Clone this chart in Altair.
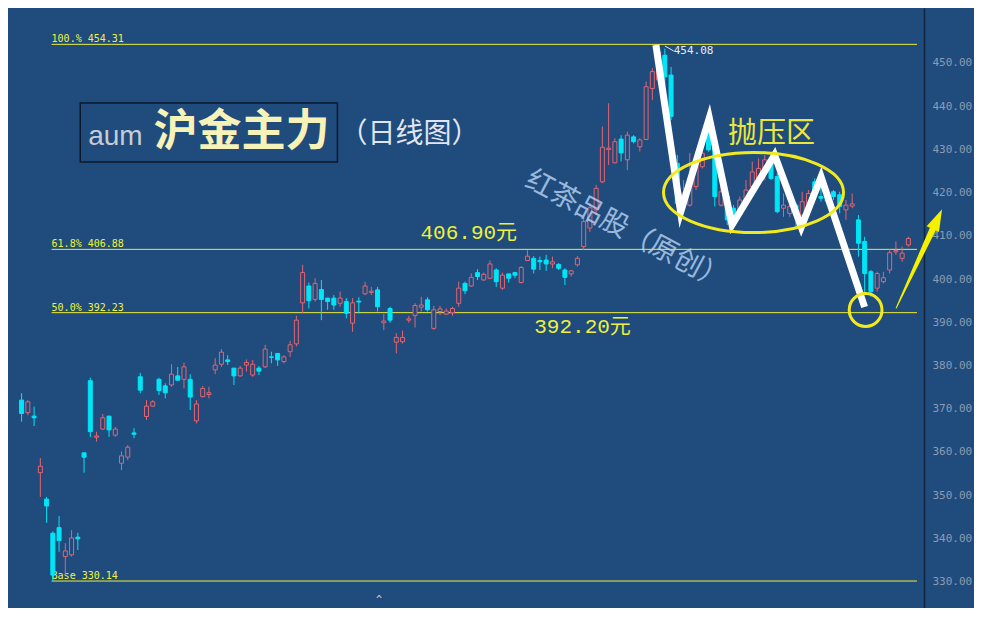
import altair as alt
import pandas as pd

BG = "#1f4b7d"
RED = "#e4646f"
CYAN = "#00e6f6"
YEL = "#eeee38"

# daily candles (price units)
opens = [372.0, 369.1, 368.3, 355.2, 349.1, 341.2, 342.5, 335.8, 336.2, 340.3,
         359.8, 376.5, 363.4, 365.3, 368.3, 363.9, 357.4, 358.8, 364.4, 377.4,
         368.2, 370.6, 376.8, 375.3, 375.5, 377.6, 376.8, 376.8, 367.2, 372.8,
         373.3, 379.0, 380.3, 381.3, 379.4, 377.6, 380.1, 377.8, 379.4, 379.7,
         382.0, 382.8, 380.9, 383.2, 385.0, 394.5, 398.4, 395.3, 397.6, 395.6,
         395.6, 394.4, 394.8, 389.8, 394.9, 396.6, 396.9, 397.5, 389.9, 393.2,
         385.4, 385.5, 390.5, 391.6, 393.5, 395.2, 388.6, 392.5, 391.9, 392.2,
         394.4, 399.0, 398.4, 401.5, 399.8, 400.2, 402.1, 397.9, 401.2, 401.5,
         399.2, 404.3, 404.8, 404.3, 404.4, 403.5, 403.4, 402.1, 401.2, 403.3,
         407.5, 411.8, 416.0, 422.5, 430.0, 426.9, 432.4, 427.6, 432.9, 430.6,
         432.3, 444.1, 446.1, 451.8, 447.2, 426.8, 416.7, 417.1, 421.4, 426.0,
         434.5, 432.2, 417.1, 419.1, 416.4, 414.8, 417.1, 421.4, 422.9, 425.6,
         426.8, 423.7, 416.4, 415.2, 417.1, 414.8, 417.5, 422.5, 419.1, 420.0,
         420.2, 419.5, 416.0, 416.9, 413.7, 408.7, 401.7, 397.9, 399.4, 402.1,
         406.3, 404.8, 407.9]
highs = [373.6, 372.0, 370.5, 358.6, 349.6, 341.6, 345.2, 338.9, 341.9, 341.3,
         359.8, 377.2, 364.7, 368.8, 368.3, 365.8, 360.1, 361.6, 365.5, 378.3,
         372.0, 372.0, 377.2, 375.9, 380.3, 379.7, 380.7, 378.0, 372.0, 375.3,
         375.1, 381.7, 383.8, 382.4, 379.4, 379.9, 381.4, 381.3, 379.9, 384.8,
         383.2, 382.8, 382.4, 385.7, 391.5, 403.3, 399.2, 400.2, 399.8, 395.6,
         396.3, 397.1, 395.6, 395.6, 395.8, 399.4, 398.2, 398.2, 391.9, 393.6,
         387.5, 388.1, 391.5, 394.4, 395.9, 395.8, 393.8, 393.8, 393.2, 393.6,
         399.4, 399.4, 401.3, 402.3, 401.5, 404.3, 402.5, 401.5, 401.3, 401.7,
         403.0, 406.7, 405.3, 405.2, 405.6, 405.2, 403.7, 402.5, 402.1, 405.3,
         414.4, 417.6, 421.8, 435.3, 440.7, 432.6, 433.3, 434.1, 433.3, 432.6,
         445.7, 448.8, 454.08, 453.3, 449.1, 428.7, 422.9, 429.2, 429.5, 432.2,
         435.7, 432.9, 422.9, 419.8, 417.1, 419.1, 422.9, 427.2, 427.9, 428.7,
         427.9, 424.5, 419.8, 419.5, 417.5, 420.2, 420.6, 423.3, 421.4, 421.5,
         420.6, 420.2, 418.3, 419.8, 414.8, 409.8, 402.1, 401.7, 401.7, 406.9,
         408.7, 407.5, 409.8]
lows = [367.0, 368.5, 366.0, 349.6, 343.6, 330.14, 336.9, 331.5, 335.8, 337.3,
        355.2, 363.5, 362.4, 365.1, 363.5, 363.5, 355.8, 358.1, 363.2, 373.6,
        367.4, 370.5, 373.2, 372.4, 375.1, 376.6, 374.7, 369.7, 366.6, 372.6,
        372.4, 378.0, 379.7, 380.1, 375.5, 377.4, 378.6, 377.4, 377.8, 379.4,
        380.5, 379.9, 380.5, 382.0, 384.4, 392.1, 393.2, 394.8, 390.5, 392.9,
        392.9, 393.6, 390.9, 387.8, 392.1, 396.3, 396.3, 392.5, 388.2, 389.9,
        382.8, 385.1, 389.9, 388.8, 392.5, 392.5, 388.2, 391.7, 391.7, 391.5,
        393.6, 396.5, 398.2, 399.8, 399.6, 400.0, 398.2, 397.5, 399.2, 400.2,
        399.0, 404.3, 401.3, 402.1, 401.9, 402.5, 402.1, 398.6, 400.6, 402.9,
        406.7, 410.9, 414.8, 422.2, 426.4, 426.8, 427.2, 425.2, 431.4, 429.5,
        432.2, 441.4, 445.5, 444.9, 436.8, 416.7, 416.0, 416.8, 420.6, 425.6,
        429.5, 416.8, 416.8, 412.5, 412.3, 414.4, 416.8, 421.0, 422.2, 422.9,
        422.9, 415.2, 414.4, 414.4, 412.1, 413.7, 416.0, 419.8, 417.9, 417.0,
        418.3, 415.2, 413.7, 416.4, 405.2, 396.7, 395.9, 397.1, 399.0, 401.3,
        405.6, 404.0, 407.5]
closes = [368.9, 371.6, 367.9, 356.7, 347.5, 331.5, 339.5, 337.1, 340.1, 339.9,
          358.8, 364.7, 363.7, 367.9, 365.1, 365.3, 359.1, 361.1, 364.1, 374.3,
          370.6, 371.6, 374.2, 373.7, 378.0, 376.6, 379.7, 372.7, 371.1, 374.7,
          373.7, 380.1, 383.1, 380.9, 377.6, 379.4, 380.7, 380.3, 378.7, 383.8,
          381.9, 381.3, 382.0, 384.8, 390.5, 401.5, 395.0, 399.0, 395.3, 394.8,
          394.0, 395.6, 392.1, 394.5, 394.7, 398.4, 397.2, 393.6, 390.3, 390.5,
          386.5, 386.5, 390.8, 393.9, 394.0, 392.9, 392.9, 393.1, 392.6, 393.2,
          397.9, 397.3, 400.4, 400.6, 401.1, 403.5, 399.4, 400.9, 400.2, 400.9,
          402.7, 405.3, 402.3, 404.0, 403.5, 404.0, 402.5, 400.4, 401.9, 404.8,
          413.3, 416.5, 421.0, 430.5, 430.3, 431.8, 429.2, 433.3, 431.8, 432.2,
          444.5, 448.0, 452.5, 446.8, 437.6, 417.5, 419.9, 422.9, 426.0, 429.1,
          429.9, 419.1, 420.2, 413.7, 412.9, 418.3, 420.6, 424.8, 425.6, 427.6,
          423.3, 415.6, 417.1, 416.8, 414.8, 417.9, 419.8, 420.6, 418.7, 418.0,
          419.1, 416.8, 417.1, 417.4, 408.3, 401.3, 397.1, 401.3, 400.3, 406.1,
          406.6, 406.0, 409.4]

axis_ticks = [330, 340, 350, 360, 370, 380, 390, 400, 410, 420, 430, 440, 450]

fib_levels = [454.31, 406.88, 392.23, 330.14]
fib_labels = ["100.% 454.31", "61.8% 406.88", "50.0% 392.23", "Base  330.14"]
fib_start, fib_end = 5.80, 144.38

zig_i = [102.57, 106.53, 111.12, 114.76, 121.57, 125.85, 129.02, 135.99]
zig_v = [454.16, 415.52, 437.27, 412.51, 428.71, 412.05, 423.62, 393.54]

n = len(opens)
df = pd.DataFrame({"i": list(range(1, n + 1)), "o": opens, "h": highs,
                   "l": lows, "c": closes})
df["dir"] = ["up" if c >= o else "down" for o, c in zip(opens, closes)]
df["bt"] = df[["o", "c"]].max(axis=1)
df["bb"] = df[["o", "c"]].min(axis=1)

xs = alt.Scale(domain=[-0.378, 144.70], nice=False, zero=False)
ys = alt.Scale(domain=[323.90, 462.72], nice=False, zero=False)
yaxis = alt.Axis(orient="right", values=axis_ticks, format=".2f",
                 labelFont="DejaVu Sans Mono", labelFontSize=11,
                 labelColor="#8d9cb2", domainColor="#0f2540", domainWidth=1.5,
                 ticks=False, labelPadding=8, grid=False, title=None)


def X(f):
    return alt.X(f, type="quantitative", scale=xs, axis=None)


def Y(f):
    return alt.Y(f, type="quantitative", scale=ys, axis=yaxis)


base = alt.Chart(df)
wicks = base.mark_rule(strokeWidth=1).encode(
    x=X("i"), y=Y("l"), y2="h",
    color=alt.Color("dir:N", scale=alt.Scale(domain=["up", "down"], range=[RED, CYAN]), legend=None))
up_bodies = base.transform_filter(alt.datum.dir == "up").mark_bar(
    size=4, fill=BG, stroke=RED, strokeWidth=1).encode(x=X("i"), y=Y("bb"), y2="bt")
dn_bodies = base.transform_filter(alt.datum.dir == "down").mark_bar(
    size=4, fill=CYAN, stroke=CYAN, strokeWidth=1).encode(x=X("i"), y=Y("bb"), y2="bt")

fib_df = pd.DataFrame({"v": fib_levels, "t": fib_labels, "a": fib_start, "b": fib_end})
fib_lines = alt.Chart(fib_df).mark_rule(color=YEL, strokeWidth=1).encode(
    x=X("a"), x2="b", y=Y("v"))
fib_text = alt.Chart(fib_df).mark_text(
    align="left", baseline="bottom", font="DejaVu Sans Mono", fontSize=10,
    color="#f2f23c").encode(x=X("a"), y=Y("v"), text="t:N")

# title box
box_df = pd.DataFrame({"a": [10.39], "b": [51.57], "v1": [440.74], "v2": [427.09]})
box = alt.Chart(box_df).mark_rect(fillOpacity=0, stroke="#0c1a2c", strokeWidth=1.5).encode(
    x=X("a"), x2="b", y=Y("v1"), y2="v2")


def txt(i, v, t, **kw):
    d = pd.DataFrame({"i": [i], "v": [v], "t": [t]})
    return alt.Chart(d).mark_text(**kw).encode(x=X("i"), y=Y("v"), text="t:N")


aum = txt(11.66, 431.02, "aum", align="left", baseline="alphabetic",
          font="Liberation Sans", fontSize=28, color="#c8ccd4")
hj = txt(22.11, 433.91, "沪金主力", align="left", baseline="middle",
         font="Noto Sans CJK SC", fontSize=44, fontWeight="bold", color="#f6f2b8")
rx = txt(51.9, 433.33, "（日线图）", align="left", baseline="middle",
         font="Noto Sans CJK SC", fontSize=28, color="#dfe6f2")
t406 = txt(64.87, 410.66, "406.90元", align="left", baseline="middle",
           font="Liberation Mono, Noto Sans CJK SC", fontSize=21, color="#f0f03a")
t392 = txt(83.09, 388.91, "392.20元", align="left", baseline="middle",
           font="Liberation Mono, Noto Sans CJK SC", fontSize=21, color="#f0f03a")
pya = txt(114.13, 433.52, "抛压区", align="left", baseline="middle",
          font="Noto Sans CJK SC", fontSize=29, color="#ece83a")
wm = txt(97.8, 411.12, "红茶品股（原创）", align="center", baseline="middle",
         font="Noto Sans CJK SC", fontSize=28, angle=28, color="#b8d4f4", opacity=0.8)
peak = txt(105.42, 452.7, "454.08", align="left", baseline="middle",
           font="DejaVu Sans Mono", fontSize=11, color="#e6ecf4")
caret = txt(58.22, 325.75, "^", align="center", baseline="middle",
            font="DejaVu Sans Mono", fontSize=10, color="#d0d8e0")

lead_df = pd.DataFrame({"a": [104.02], "b": [105.42], "v1": [453.93], "v2": [452.77]})
lead = alt.Chart(lead_df).mark_rule(color="#e6ecf4", strokeWidth=1).encode(
    x=X("a"), x2="b", y=Y("v1"), y2="v2")

zz_df = pd.DataFrame({"i": zig_i, "v": zig_v, "k": list(range(len(zig_i)))})
zigzag = alt.Chart(zz_df).mark_line(color="white", strokeWidth=7, strokeJoin="miter",
                                    strokeMiterLimit=10).encode(x=X("i"), y=Y("v"), order="k:O")

ell_df = pd.DataFrame({"i": [118.2], "v": [420.03]})
ellipse = alt.Chart(ell_df).mark_point(
    shape="M-1,0A1,0.445,0,1,0,1,0A1,0.445,0,1,0,-1,0Z", size=32400, filled=False,
    stroke="#f2ea1e", strokeWidth=3, opacity=1).encode(x=X("i"), y=Y("v"))

circ_df = pd.DataFrame({"i": [136.15], "v": [392.85]})
circle = alt.Chart(circ_df).mark_point(shape="circle", size=1075, filled=False,
                                       stroke="#f2ea1e", strokeWidth=3, opacity=1).encode(
    x=X("i"), y=Y("v"))

tr_df = pd.DataFrame({"i": [141.05, 146.91], "v": [393.31, 411.54], "w": [1.0, 6.5], "k": [0, 1]})
trail = alt.Chart(tr_df).mark_trail(color="#f4f000").encode(
    x=X("i"), y=Y("v"), size=alt.Size("w:Q", scale=None), order="k:O")
head_df = pd.DataFrame({"i": [147.65], "v": [413.84]})
head = alt.Chart(head_df).mark_point(shape="M0,-1L0.62,1L-0.62,1Z", size=484, filled=True,
                                     color="#f4f000", angle=25, opacity=1).encode(
    x=X("i"), y=Y("v"))

chart = alt.layer(
    fib_lines, fib_text, wicks, up_bodies, dn_bodies, box,
    aum, hj, rx, t406, t392, wm, pya, lead, peak, caret,
    zigzag, ellipse, circle, trail, head,
).properties(
    width=916, height=600,
    padding={"left": 0, "top": 0, "right": 50, "bottom": 0},
    autosize=alt.AutoSizeParams(type="none"),
    background=BG,
).configure_view(stroke=None, fill=BG)

chart.save("out.html", embed_options={"renderer": "svg", "actions": False})
